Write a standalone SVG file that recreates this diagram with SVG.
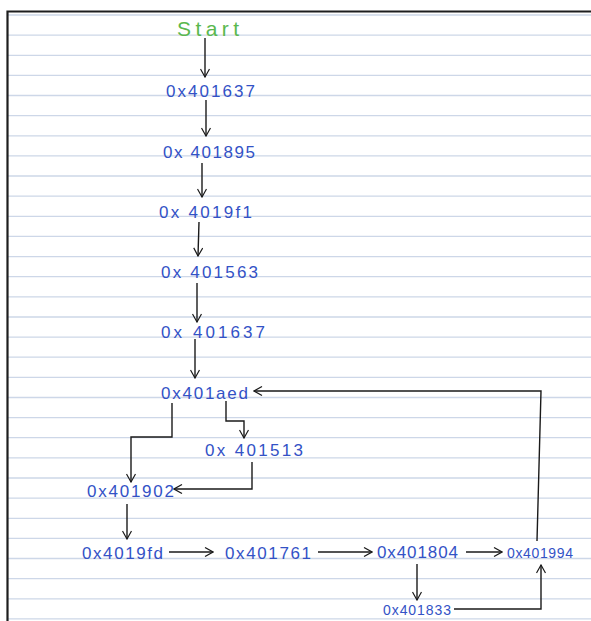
<svg xmlns="http://www.w3.org/2000/svg" width="591" height="621" viewBox="0 0 591 621">
<defs>
<style>
.rule{stroke:#cdd7e8;stroke-width:1.3}
.frame{stroke:#1e1e1e;stroke-width:2.2;fill:none}
.lbl{font-family:"Liberation Sans",Arial,sans-serif;font-size:17px;fill:#3352c6}
.sm{font-size:14px}
.start{font-family:"Liberation Sans",Arial,sans-serif;font-size:21px;fill:#5ab84e}
.c{stroke:#1a1a1a;stroke-width:1.4;fill:none;marker-end:url(#ah)}
</style>
<marker id="ah" viewBox="0 0 10 10" refX="9" refY="5" markerWidth="10" markerHeight="10" markerUnits="userSpaceOnUse" orient="auto">
<path d="M1,0.5 L9,5 L1,9.5" fill="none" stroke="#1a1a1a" stroke-width="1.2"/>
</marker>
</defs>
<rect width="591" height="621" fill="#ffffff"/>
<g id="paper">
<path class="rule" d="M8,15H591M8,35.1H591M8,55.3H591M8,75.4H591M8,95.5H591M8,115.7H591M8,135.8H591M8,155.9H591M8,176H591M8,196.2H591M8,216.3H591M8,236.4H591M8,256.6H591M8,276.7H591M8,296.8H591M8,317H591M8,337.1H591M8,357.2H591M8,377.3H591M8,397.5H591M8,417.6H591M8,437.7H591M8,457.9H591M8,478H591M8,498.1H591M8,518.3H591M8,538.4H591M8,558.5H591M8,578.6H591M8,598.8H591M8,618.9H591"/>
<path class="frame" d="M7.5,621V11.5H591"/>
</g>
<g id="connectors">
<path class="c" d="M205,38V77"/>
<path class="c" d="M206,100V136"/>
<path class="c" d="M202,163V197"/>
<path class="c" d="M199,222L198,256"/>
<path class="c" d="M197,283V322"/>
<path class="c" d="M195,339V378"/>
<path class="c" d="M172,403V437H131V482"/>
<path class="c" d="M226,401V421H244V438"/>
<path class="c" d="M252,462V489H174"/>
<path class="c" d="M127,504V539"/>
<path class="c" d="M169,552H213"/>
<path class="c" d="M318,552H372"/>
<path class="c" d="M466,552H502"/>
<path class="c" d="M417,564V600"/>
<path class="c" d="M454,609H541V565"/>
<path class="c" d="M537,541L541,391H254"/>
</g>
<g id="start"><text class="start" x="177" y="36" textLength="62" lengthAdjust="spacing">Start</text></g>
<g id="n401637a"><text class="lbl" x="166" y="97" textLength="89" lengthAdjust="spacing">0x401637</text></g>
<g id="n401895"><text class="lbl" x="163" y="158" textLength="92" lengthAdjust="spacing">0x 401895</text></g>
<g id="n4019f1"><text class="lbl" x="159" y="218" textLength="93" lengthAdjust="spacing">0x 4019f1</text></g>
<g id="n401563"><text class="lbl" x="161" y="278" textLength="97" lengthAdjust="spacing">0x 401563</text></g>
<g id="n401637b"><text class="lbl" x="161" y="338" textLength="104" lengthAdjust="spacing">0x 401637</text></g>
<g id="n401aed"><text class="lbl" x="161" y="399" textLength="87" lengthAdjust="spacing">0x401aed</text></g>
<g id="n401513"><text class="lbl" x="205" y="456" textLength="98" lengthAdjust="spacing">0x 401513</text></g>
<g id="n401902"><text class="lbl" x="87" y="497" textLength="87" lengthAdjust="spacing">0x401902</text></g>
<g id="n4019fd"><text class="lbl" x="82" y="559" textLength="81" lengthAdjust="spacing">0x4019fd</text></g>
<g id="n401761"><text class="lbl" x="225" y="559" textLength="86" lengthAdjust="spacing">0x401761</text></g>
<g id="n401804"><text class="lbl" x="377" y="558" textLength="81" lengthAdjust="spacing">0x401804</text></g>
<g id="n401994"><text class="lbl sm" x="507" y="558" textLength="66" lengthAdjust="spacing">0x401994</text></g>
<g id="n401833"><text class="lbl sm" x="383" y="615" textLength="68" lengthAdjust="spacing">0x401833</text></g>
</svg>
